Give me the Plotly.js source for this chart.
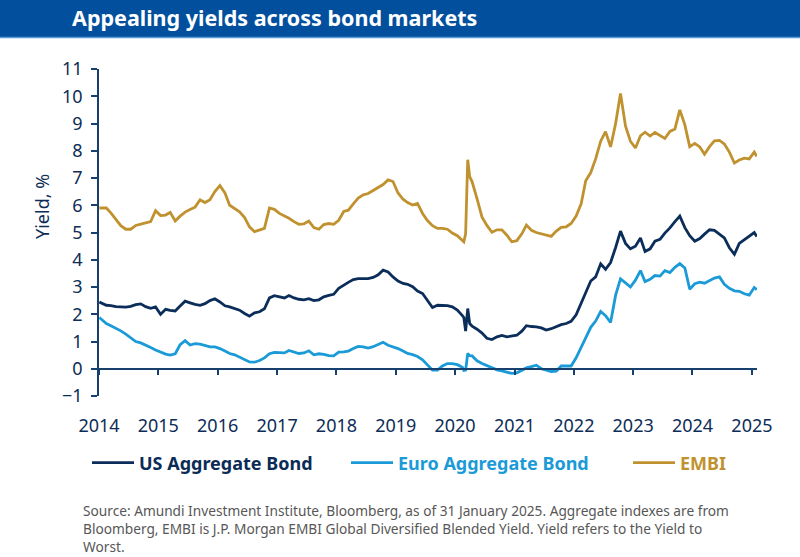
<!DOCTYPE html>
<html>
<head>
<meta charset="utf-8">
<script src="https://cdn.plot.ly/plotly-3.0.1.min.js"></script>
<style>
html,body{margin:0;padding:0;background:#ffffff;}
#chart{width:800px;height:557px;}
</style>
</head>
<body>
<div id="chart"></div>
<script>
// Observation dates (mid-month, with extra points around the March 2020 shock)
const dates = [
 '2014-01-03','2014-02-15','2014-03-15','2014-04-15','2014-05-15','2014-06-15','2014-07-15','2014-08-15','2014-09-15','2014-10-15','2014-11-15','2014-12-15',
 '2015-01-15','2015-02-15','2015-03-15','2015-04-15','2015-05-15','2015-06-15','2015-07-15','2015-08-15','2015-09-15','2015-10-15','2015-11-15','2015-12-15',
 '2016-01-15','2016-02-15','2016-03-15','2016-04-15','2016-05-15','2016-06-15','2016-07-15','2016-08-15','2016-09-15','2016-10-15','2016-11-15','2016-12-15',
 '2017-01-15','2017-02-15','2017-03-15','2017-04-15','2017-05-15','2017-06-15','2017-07-15','2017-08-15','2017-09-15','2017-10-15','2017-11-15','2017-12-15',
 '2018-01-15','2018-02-15','2018-03-15','2018-04-15','2018-05-15','2018-06-15','2018-07-15','2018-08-15','2018-09-15','2018-10-15','2018-11-15','2018-12-15',
 '2019-01-15','2019-02-15','2019-03-15','2019-04-15','2019-05-15','2019-06-15','2019-07-15','2019-08-15','2019-09-15','2019-10-15','2019-11-15','2019-12-15',
 '2020-01-15','2020-02-15','2020-02-24','2020-03-06','2020-03-19','2020-03-31',
 '2020-04-15','2020-05-15','2020-06-15','2020-07-15','2020-08-15','2020-09-15','2020-10-15','2020-11-15','2020-12-15',
 '2021-01-15','2021-02-15','2021-03-15','2021-04-15','2021-05-15','2021-06-15','2021-07-15','2021-08-15','2021-09-15','2021-10-15','2021-11-15','2021-12-15',
 '2022-01-15','2022-02-15','2022-03-15','2022-04-15','2022-05-15','2022-06-15','2022-07-15','2022-08-15','2022-09-15','2022-10-15','2022-11-15','2022-12-15',
 '2023-01-15','2023-02-15','2023-03-15','2023-04-15','2023-05-15','2023-06-15','2023-07-15','2023-08-15','2023-09-15','2023-10-15','2023-11-15','2023-12-15',
 '2024-01-15','2024-02-15','2024-03-15','2024-04-15','2024-05-15','2024-06-15','2024-07-15','2024-08-15','2024-09-15','2024-10-15','2024-11-15','2024-12-15',
 '2025-01-15','2025-01-31'
];

// Yields, %
const usAggregate = [
 2.45,2.33,2.32,2.28,2.27,2.26,2.29,2.35,2.38,2.28,2.22,2.27,
 2.00,2.18,2.14,2.12,2.30,2.48,2.42,2.36,2.33,2.39,2.50,2.57,
 2.45,2.31,2.27,2.22,2.15,2.03,1.93,2.05,2.09,2.20,2.60,2.68,
 2.63,2.60,2.69,2.60,2.55,2.53,2.57,2.50,2.53,2.64,2.69,2.73,
 2.95,3.08,3.17,3.27,3.31,3.31,3.31,3.35,3.45,3.62,3.55,3.37,
 3.22,3.13,3.10,3.01,2.85,2.76,2.50,2.25,2.33,2.33,2.32,2.27,
 2.15,1.95,1.88,1.38,2.21,1.66,
 1.56,1.45,1.31,1.12,1.07,1.17,1.22,1.17,1.20,
 1.23,1.38,1.58,1.55,1.54,1.50,1.42,1.47,1.54,1.62,1.66,1.74,
 1.98,2.40,2.75,3.22,3.37,3.85,3.65,3.90,4.45,5.05,4.60,4.40,
 4.50,4.80,4.30,4.40,4.68,4.75,4.98,5.17,5.40,5.60,5.18,4.88,
 4.68,4.78,4.94,5.10,5.08,4.95,4.80,4.44,4.20,4.60,4.74,4.85,
 5.00,4.85
];

const euroAggregate = [
 1.88,1.66,1.58,1.49,1.39,1.27,1.14,1.00,0.95,0.88,0.78,0.69,
 0.60,0.54,0.50,0.55,0.88,1.03,0.87,0.92,0.90,0.84,0.80,0.80,
 0.74,0.65,0.56,0.51,0.43,0.34,0.25,0.24,0.30,0.40,0.55,0.60,
 0.60,0.58,0.67,0.60,0.56,0.58,0.66,0.51,0.55,0.53,0.48,0.47,
 0.61,0.62,0.65,0.74,0.82,0.80,0.76,0.81,0.90,0.97,0.86,0.81,
 0.74,0.65,0.56,0.52,0.45,0.33,0.14,-0.05,-0.05,0.10,0.19,0.19,
 0.15,0.05,-0.06,-0.05,0.56,0.48,
 0.47,0.29,0.19,0.12,0.02,-0.04,-0.08,-0.12,-0.17,
 -0.15,-0.07,0.03,0.08,0.13,0.00,-0.06,-0.10,-0.09,0.10,0.10,0.10,
 0.40,0.80,1.16,1.52,1.75,2.10,1.95,1.70,2.70,3.30,3.15,3.00,
 3.25,3.60,3.20,3.28,3.42,3.40,3.60,3.53,3.72,3.86,3.70,2.92,
 3.12,3.18,3.14,3.25,3.33,3.37,3.10,2.95,2.86,2.84,2.75,2.70,
 2.98,2.90
];

const embi = [
 5.90,5.90,5.72,5.48,5.25,5.12,5.12,5.26,5.32,5.35,5.40,5.80,
 5.62,5.64,5.74,5.42,5.60,5.75,5.84,5.93,6.20,6.10,6.20,6.50,
 6.72,6.45,6.00,5.88,5.76,5.55,5.21,5.03,5.09,5.15,5.90,5.85,
 5.70,5.62,5.52,5.40,5.30,5.32,5.42,5.18,5.12,5.29,5.33,5.30,
 5.45,5.77,5.82,6.05,6.26,6.38,6.43,6.54,6.66,6.76,6.93,6.87,
 6.45,6.22,6.10,6.01,6.07,5.70,5.44,5.25,5.15,5.15,5.12,4.98,
 4.88,4.72,4.66,4.95,7.67,7.05,
 6.86,6.24,5.56,5.26,5.01,5.10,5.10,4.90,4.66,
 4.70,4.95,5.27,5.08,5.00,4.95,4.90,4.86,5.05,5.19,5.21,5.33,
 5.60,6.05,6.90,7.20,7.70,8.35,8.70,8.14,9.00,10.10,8.90,8.35,
 8.10,8.55,8.68,8.54,8.67,8.55,8.45,8.71,8.80,9.50,8.95,8.15,
 8.27,8.14,7.87,8.15,8.36,8.38,8.25,7.95,7.55,7.66,7.73,7.70,
 7.95,7.79
];

const seriesNames = ['US Aggregate Bond','Euro Aggregate Bond','EMBI'];
const seriesColors = ['#0b2d59','#1b9ad8','#c0922f'];
const yearTicks = ['2014-01-01','2015-01-01','2016-01-01','2017-01-01','2018-01-01','2019-01-01',
                   '2020-01-01','2021-01-01','2022-01-01','2023-01-01','2024-01-01','2025-01-01'];
const yearLabels = ['2014','2015','2016','2017','2018','2019','2020','2021','2022','2023','2024','2025'];
const yTicks = [-1,0,1,2,3,4,5,6,7,8,9,10,11];

const titleText = 'Appealing yields across bond markets';
const yTitle = 'Yield, %';
const sourceText = 'Source: Amundi Investment Institute, Bloomberg, as of 31 January 2025. Aggregate indexes are from<br>' +
  'Bloomberg, EMBI is J.P. Morgan EMBI Global Diversified Blended Yield. Yield refers to the Yield to<br>' +
  'Worst.';

// ---- figure ----
const W = 800, H = 557;
const M = {l: 99, r: 43, t: 69, b: 161};
const PW = W - M.l - M.r, PH = H - M.t - M.b;
const px = p => (p - M.l) / PW;            // pixel x -> paper x
const py = p => (H - M.b - p) / PH;        // pixel y -> paper y

const axisColor = '#17406e';
const textNavy = '#0d2d57';
const FONT = 'Noto Sans, Open Sans, sans-serif';
const xRange = ['2014-01-01', '2025-02-01'];

const allSeries = [usAggregate, euroAggregate, embi];
const legendIds = ['legend', 'legend2', 'legend3'];
const traces = allSeries.map((vals, i) => ({
  type: 'scatter', mode: 'lines',
  x: dates, y: vals,
  name: seriesNames[i],
  legend: legendIds[i],
  line: {color: seriesColors[i], width: 2.8},
  hovertemplate: '%{x|%b %Y}: %{y:.2f}%<extra>' + seriesNames[i] + '</extra>'
}));
// invisible helper on the zero-line axis so it is drawn
traces.push({type: 'scatter', mode: 'lines', x: [xRange[0], xRange[1]], y: [null, null],
  xaxis: 'x2', showlegend: false, hoverinfo: 'skip'});

const legendBase = (xp, color) => ({
  orientation: 'h', x: px(xp), xanchor: 'left', y: py(463), yanchor: 'middle',
  bgcolor: 'rgba(0,0,0,0)', borderwidth: 0, itemwidth: 42,
  font: {family: FONT, size: 18, color: color, weight: 700},
  itemclick: false, itemdoubleclick: false
});

const annotations = [
  {text: yTitle, xref: 'paper', yref: 'paper', x: px(42), y: py(207), textangle: -90,
   showarrow: false, xanchor: 'center', yanchor: 'middle',
   font: {family: FONT, size: 18, color: textNavy}},
  {text: sourceText, xref: 'paper', yref: 'paper', x: px(81), y: py(528.5),
   xanchor: 'left', yanchor: 'middle', showarrow: false, align: 'left',
   font: {family: FONT, size: 13.7, color: '#575757'}}
];

const layout = {
  width: W, height: H,
  margin: M,
  paper_bgcolor: '#ffffff', plot_bgcolor: '#ffffff',
  font: {family: FONT, color: textNavy},
  title: {
    text: '<b>' + titleText + '</b>',
    xref: 'container', yref: 'container', x: 72 / W, xanchor: 'left',
    y: 1 - 18 / H, yanchor: 'middle',
    font: {family: FONT, size: 21.5, color: '#ffffff'}
  },
  xaxis: {
    type: 'date', range: xRange, tickvals: yearTicks, ticktext: yearLabels,
    showline: false, showgrid: false, zeroline: false, ticks: '',
    ticklabelstandoff: 17,
    tickfont: {family: FONT, size: 18, color: textNavy}, fixedrange: true
  },
  xaxis2: {
    type: 'date', range: xRange, overlaying: 'x', anchor: 'free', position: py(368.5),
    tickvals: yearTicks, showticklabels: false, showline: true, linecolor: axisColor, linewidth: 1.6,
    ticks: 'outside', ticklen: 6, tickwidth: 1.6, tickcolor: axisColor,
    showgrid: false, zeroline: false, fixedrange: true
  },
  yaxis: {
    range: [-1, 11], tickvals: yTicks, showline: true, linecolor: axisColor, linewidth: 1.6,
    ticks: 'outside', ticklen: 6, tickwidth: 1.6, tickcolor: axisColor,
    showgrid: false, zeroline: false, ticklabelstandoff: 5,
    tickfont: {family: FONT, size: 18, color: textNavy}, fixedrange: true
  },
  legend: legendBase(87, '#0b2b57'),
  legend2: legendBase(346, '#1b9ad8'),
  legend3: legendBase(628, '#c0922f'),
  shapes: [
    {type: 'rect', xref: 'paper', yref: 'paper', layer: 'below',
     x0: px(0), x1: px(W), y0: py(37), y1: py(0), fillcolor: '#024f9e', line: {width: 0}},
    {type: 'line', xref: 'paper', yref: 'paper', layer: 'below',
     x0: px(0), x1: px(W), y0: py(37.6), y1: py(37.6), line: {color: '#5b9ad6', width: 1.5}}
  ],
  annotations: annotations,
  hovermode: 'closest',
  showlegend: true
};

Plotly.newPlot('chart', traces, layout, {displayModeBar: false, responsive: false});
</script>
</body>
</html>
